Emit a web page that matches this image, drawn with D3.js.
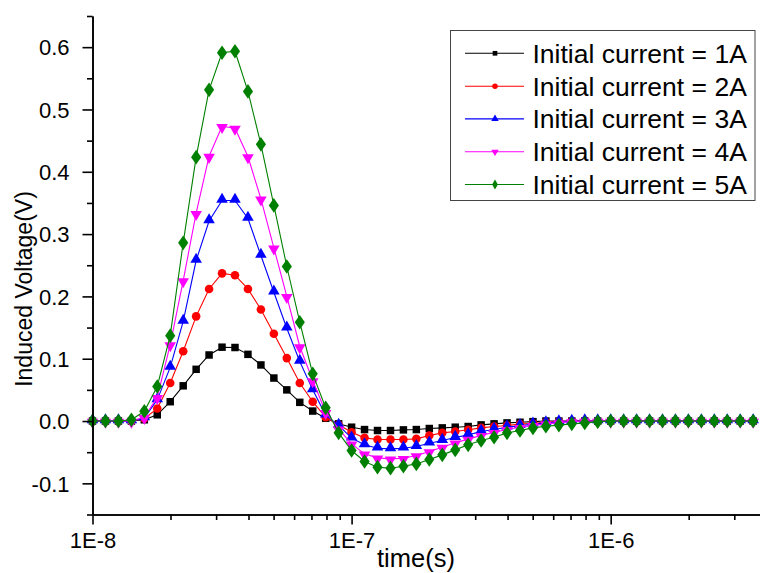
<!DOCTYPE html>
<html>
<head>
<meta charset="utf-8">
<script src="https://cdn.jsdelivr.net/npm/d3@7/dist/d3.min.js"></script>
<style>
  html, body { margin: 0; padding: 0; background: #fff; }
  svg { display: block; }
  text { font-family: "Liberation Sans", Arial, sans-serif; fill: #000; }
</style>
</head>
<body>
<svg id="chart" width="760" height="573"></svg>
<script>
// Sample times (s), 20 points per decade
const times = [
  1.000e-8, 1.122e-8, 1.259e-8, 1.413e-8, 1.585e-8, 1.778e-8, 1.995e-8, 2.239e-8, 2.512e-8, 2.818e-8,
  3.162e-8, 3.548e-8, 3.981e-8, 4.467e-8, 5.012e-8, 5.623e-8, 6.310e-8, 7.079e-8, 7.943e-8, 8.913e-8,
  1.000e-7, 1.122e-7, 1.259e-7, 1.413e-7, 1.585e-7, 1.778e-7, 1.995e-7, 2.239e-7, 2.512e-7, 2.818e-7,
  3.162e-7, 3.548e-7, 3.981e-7, 4.467e-7, 5.012e-7, 5.623e-7, 6.310e-7, 7.079e-7, 7.943e-7, 8.913e-7,
  1.000e-6, 1.122e-6, 1.259e-6, 1.413e-6, 1.585e-6, 1.778e-6, 1.995e-6, 2.239e-6, 2.512e-6, 2.818e-6,
  3.162e-6, 3.548e-6
];

// Induced voltage (V) for each initial current
const v1A = [
  0, 0, 0, 0, 0.002, 0.010, 0.031, 0.0565, 0.083, 0.106,
  0.1185, 0.118, 0.107, 0.090, 0.069, 0.050, 0.030, 0.016, 0.0045, -0.0045,
  -0.0099, -0.0137, -0.0152, -0.0152, -0.0142, -0.0137, -0.012, -0.011, -0.0099, -0.0088,
  -0.0062, -0.0045, -0.003, -0.002, -0.001, 0, 0, 0, 0, 0,
  0, 0, 0, 0, 0, 0, 0, 0, 0, 0,
  0, 0
];
const v2A = [
  0, 0, 0, 0, 0.004, 0.020, 0.061, 0.112, 0.168, 0.212,
  0.237, 0.234, 0.212, 0.179, 0.140, 0.101, 0.061, 0.031, 0.006, -0.006,
  -0.018, -0.027, -0.0297, -0.0297, -0.0297, -0.0286, -0.0232, -0.019, -0.0168, -0.0141,
  -0.011, -0.0088, -0.0072, -0.005, -0.0035, -0.002, -0.001, 0, 0, 0,
  0, 0, 0, 0, 0, 0, 0, 0, 0, 0,
  0, 0
];
const v3A = [
  0, 0, 0, 0, 0.005, 0.034, 0.086, 0.160, 0.2576, 0.321,
  0.354, 0.354, 0.325, 0.2656, 0.2067, 0.149, 0.0955, 0.050, 0.0095, -0.007,
  -0.0275, -0.0382, -0.0436, -0.0447, -0.0436, -0.041, -0.0356, -0.0313, -0.0265, -0.0222,
  -0.0168, -0.0136, -0.010, -0.0075, -0.005, -0.003, -0.0015, -0.0005, 0, 0,
  0, 0, 0, 0, 0, 0, 0, 0, 0, 0,
  0, 0
];
const v4A = [
  0, 0, 0, 0, 0.006, 0.038, 0.1228, 0.2255, 0.3335, 0.425,
  0.473, 0.470, 0.4245, 0.3566, 0.278, 0.200, 0.1196, 0.065, 0.014, -0.0126,
  -0.0366, -0.0527, -0.0591, -0.0607, -0.0597, -0.0554, -0.049, -0.042, -0.035, -0.029,
  -0.023, -0.018, -0.0135, -0.010, -0.007, -0.0045, -0.0025, -0.001, 0, 0,
  0, 0, 0, 0, 0, 0, 0, 0, 0, 0,
  0, 0
];
const v5A = [
  0, 0, 0, 0.002, 0.0157, 0.0554, 0.137, 0.286, 0.4234, 0.5315,
  0.591, 0.5935, 0.529, 0.444, 0.346, 0.248, 0.1586, 0.0757, 0.0212, -0.019,
  -0.0473, -0.065, -0.074, -0.0757, -0.0725, -0.0688, -0.0618, -0.0543, -0.0463, -0.0382,
  -0.0313, -0.026, -0.019, -0.0152, -0.011, -0.0083, -0.0065, -0.0045, -0.003, -0.001,
  0, 0, 0, 0, 0, 0, 0, 0, 0, 0,
  0, 0
];

const seriesNames = [
  "Initial current = 1A", "Initial current = 2A", "Initial current = 3A",
  "Initial current = 4A", "Initial current = 5A"
];
const seriesValues = [v1A, v2A, v3A, v4A, v5A];
const seriesColors = ["#000000", "#ff0000", "#0000ff", "#ff00ff", "#008000"];

const xTickValues = [1e-8, 1e-7, 1e-6];
const xTickLabels = ["1E-8", "1E-7", "1E-6"];
const xMinorTicks = [2e-8, 3e-8, 4e-8, 5e-8, 6e-8, 7e-8, 8e-8, 9e-8,
                     2e-7, 3e-7, 4e-7, 5e-7, 6e-7, 7e-7, 8e-7, 9e-7,
                     2e-6, 3e-6];
const yTickValues = [-0.1, 0.0, 0.1, 0.2, 0.3, 0.4, 0.5, 0.6];
const yTickLabels = ["-0.1", "0.0", "0.1", "0.2", "0.3", "0.4", "0.5", "0.6"];
const yMinorTicks = [-0.15, -0.05, 0.05, 0.15, 0.25, 0.35, 0.45, 0.55, 0.65];

const svg = d3.select("#chart");
svg.append("rect").attr("width", 760).attr("height", 573).attr("fill", "#fff");

const x = d3.scaleLog().domain([1e-8, 3.77e-6]).range([92.5, 760]);
const y = d3.scaleLinear().domain([-0.15, 0.65]).range([514.5, 16]);

// Series: line first, then symbols, drawn series by series
const symbolTypes = [d3.symbolSquare, d3.symbolCircle, d3.symbolTriangle, d3.symbolTriangle, d3.symbolDiamond];
const symbolSizes = [56, 58, 58, 58, 62];
const symbolRotate = [0, 0, 0, 180, 0];

const line = d3.line().x((d, i) => x(times[i])).y(d => y(d));

const plot = svg.append("g");
seriesValues.forEach((vals, s) => {
  const g = plot.append("g");
  g.append("path")
    .datum(vals)
    .attr("d", line)
    .attr("fill", "none")
    .attr("stroke", seriesColors[s])
    .attr("stroke-width", 1.1);
  const sym = d3.symbol().type(symbolTypes[s]).size(symbolSizes[s]);
  g.selectAll("path.pt")
    .data(vals)
    .join("path")
    .attr("class", "pt")
    .attr("d", sym)
    .attr("transform", (d, i) => {
      let t = `translate(${x(times[i])},${y(d)})`;
      if (s === 4) t += " scale(1.2,1)";
      if (symbolRotate[s]) t += ` rotate(${symbolRotate[s]})`;
      if (s === 2 || s === 3) t += " translate(0,-1)";
      return t;
    })
    .attr("fill", seriesColors[s]);
});

// Axes
const xAxis = d3.axisBottom(x).tickValues(xTickValues)
  .tickFormat((d, i) => xTickLabels[i]).tickSize(10).tickSizeOuter(0).tickPadding(8);
const xMinor = d3.axisBottom(x).tickValues(xMinorTicks).tickFormat("").tickSize(5.5).tickSizeOuter(0);
const yAxis = d3.axisLeft(y).tickValues(yTickValues)
  .tickFormat((d, i) => yTickLabels[i]).tickSize(10).tickSizeOuter(0).tickPadding(13);
const yMinor = d3.axisLeft(y).tickValues(yMinorTicks).tickFormat("").tickSize(5.5).tickSizeOuter(0);

function styleAxis(g) {
  g.selectAll("path.domain").attr("stroke", "#000").attr("stroke-width", 1.6);
  g.selectAll(".tick line").attr("stroke", "#000").attr("stroke-width", 1.6);
  g.selectAll(".tick text").attr("fill", "#000")
    .style("font-family", '"Liberation Sans", Arial, sans-serif');
}

svg.append("g").attr("transform", "translate(0,514.5)").call(xMinor).call(styleAxis);
svg.append("g").attr("transform", "translate(0,514.5)").call(xAxis).call(styleAxis)
  .selectAll(".tick text").style("font-size", "22px");
svg.append("g").attr("transform", "translate(92.5,0)").call(yMinor).call(styleAxis);
svg.append("g").attr("transform", "translate(92.5,0)").call(yAxis).call(styleAxis)
  .selectAll(".tick text").style("font-size", "22px").attr("dy", "0.35em");

// Axis titles
svg.append("text")
  .attr("x", 416).attr("y", 567)
  .attr("text-anchor", "middle")
  .style("font-size", "25.5px")
  .text("time(s)");
svg.append("text")
  .attr("transform", "translate(32,289) rotate(-90)")
  .attr("text-anchor", "middle")
  .style("font-size", "23px")
  .text("Induced Voltage(V)");

// Legend
const legend = svg.append("g");
legend.append("rect")
  .attr("x", 450.5).attr("y", 30.5).attr("width", 304.5).attr("height", 170)
  .attr("fill", "#fff").attr("stroke", "#444").attr("stroke-width", 1);
const rowY = [53.3, 86.2, 118.9, 151.8, 184.5];
const legendSymbolSizes = [22, 24, 24, 24, 28];
seriesNames.forEach((name, s) => {
  const r = legend.append("g").attr("transform", `translate(0,${rowY[s]})`);
  r.append("line").attr("x1", 465).attr("x2", 524).attr("y1", 0).attr("y2", 0)
    .attr("stroke", seriesColors[s]).attr("stroke-width", 1.1);
  r.append("path")
    .attr("d", d3.symbol().type(symbolTypes[s]).size(legendSymbolSizes[s]))
    .attr("transform", `translate(495,0)` + (symbolRotate[s] ? ` rotate(${symbolRotate[s]})` : ""))
    .attr("fill", seriesColors[s]);
  r.append("text")
    .attr("x", 532.5).attr("y", 0).attr("dy", "0.36em")
    .style("font-size", "26.5px")
    .text(name);
});
</script>
</body>
</html>
